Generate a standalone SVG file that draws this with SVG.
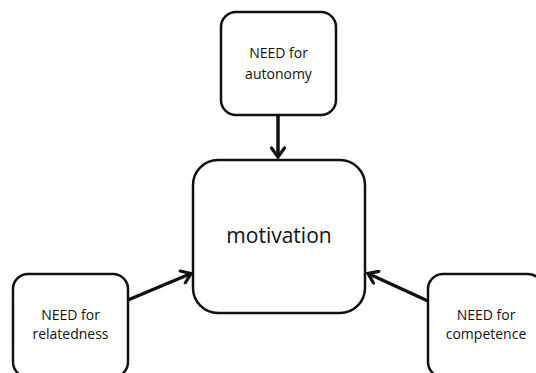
<svg xmlns="http://www.w3.org/2000/svg" width="536" height="373" viewBox="0 0 536 373">
<style>
.box{fill:#fff;stroke:#111;stroke-width:2.5}
.lbl{font-family:"Open Sans","Liberation Sans",sans-serif;font-size:14px;fill:#111;text-anchor:middle}
.big{font-family:"Open Sans","Liberation Sans",sans-serif;font-size:21px;fill:#111;text-anchor:middle}
.conn{stroke:#111;stroke-width:3.5;fill:none;marker-end:url(#arr)}
</style>
<defs>
<marker id="arr" markerUnits="userSpaceOnUse" markerWidth="16" markerHeight="16" viewBox="-12 -8 14 16" refX="0" refY="0" orient="auto">
<path d="M-9,-6.5 L0,0 L-9,6.5" fill="none" stroke="#111" stroke-width="3.2" stroke-linecap="round" stroke-linejoin="miter"/>
</marker>
</defs>
<rect width="536" height="373" fill="#fff"/>
<g id="connectors">
<line class="conn" x1="278" y1="115" x2="278" y2="157"/>
<line class="conn" x1="128" y1="300" x2="191" y2="273.5"/>
<line class="conn" x1="428" y1="301" x2="368" y2="273.5"/>
</g>
<g id="autonomy">
<rect class="box" x="221" y="12" width="115" height="103" rx="15"/>
<text class="lbl" x="278.5" y="58">NEED for</text>
<text class="lbl" x="278.5" y="79">autonomy</text>
</g>
<g id="motivation">
<rect class="box" x="193" y="160" width="172" height="153" rx="25"/>
<text class="big" x="279" y="243">motivation</text>
</g>
<g id="relatedness">
<rect class="box" x="13" y="274" width="115" height="103" rx="15"/>
<text class="lbl" x="70.5" y="320">NEED for</text>
<text class="lbl" x="70.5" y="339">relatedness</text>
</g>
<g id="competence">
<rect class="box" x="428" y="274" width="115" height="103" rx="15"/>
<text class="lbl" x="486" y="320">NEED for</text>
<text class="lbl" x="486" y="339">competence</text>
</g>
</svg>
